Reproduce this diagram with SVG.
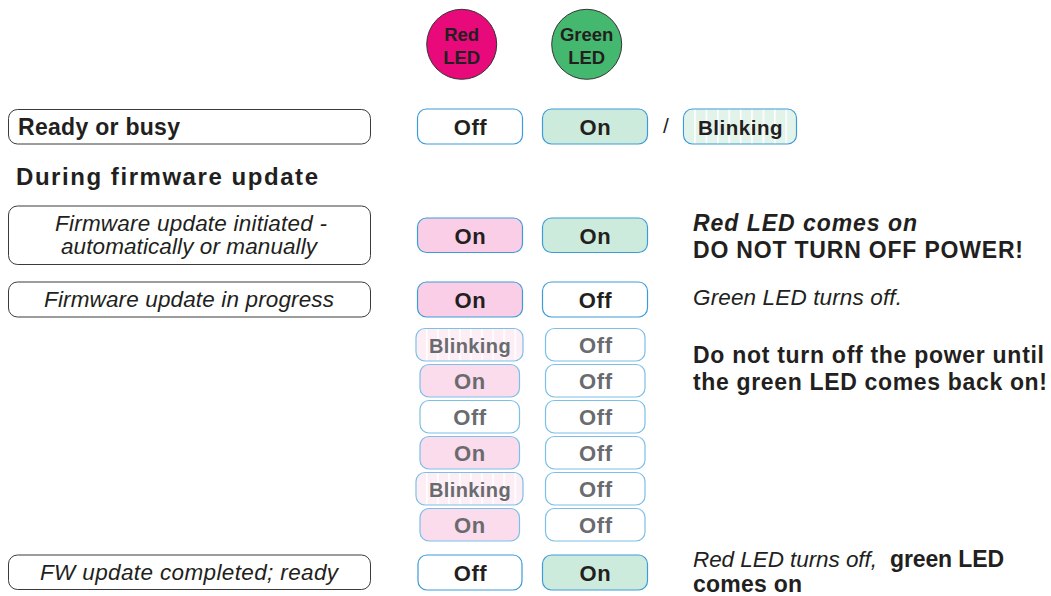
<svg xmlns="http://www.w3.org/2000/svg" width="1051" height="596" viewBox="0 0 1051 596">
<style>
text{font-family:"Liberation Sans",Arial,Helvetica,sans-serif;fill:#231f20}
.lbl{fill:#fff;stroke:#3a3a3a;stroke-width:1}
.box{stroke:#3d9bd8;stroke-width:1.2}
.boxl{stroke:#7dbfe7;stroke-width:1.2}
.w{fill:#fff}
.pk{fill:#f9cee6}
.pkl{fill:#fadcec}
.gn{fill:#cdebdd}
.bt{font-weight:bold;font-size:22px;letter-spacing:0.6px;text-anchor:middle}
.gr{fill:#6a6b6e}
.it{font-style:italic;font-size:22.5px}
.bd{font-weight:bold;font-size:23px}
.led{font-weight:bold;font-size:18.5px;text-anchor:middle}
</style>
<defs>
<pattern id="stG" patternUnits="userSpaceOnUse" x="694.2" y="0" width="11.4" height="20">
<rect width="11.4" height="20" fill="#e2f3ea"/><rect x="0" width="1.6" height="20" fill="#fff"/>
</pattern>
<pattern id="stP" patternUnits="userSpaceOnUse" x="426" y="0" width="11.05" height="20">
<rect width="11.05" height="20" fill="#fdeef6"/><rect x="0" width="1.6" height="20" fill="#fff"/>
</pattern>
</defs>
<rect width="1051" height="596" fill="#fff"/>

<g id="led-red">
<circle cx="461.7" cy="44.3" r="35" fill="#e8097b" stroke="#333" stroke-width="1"/>
<text class="led" x="461.7" y="41">Red</text>
<text class="led" x="461.7" y="64">LED</text>
</g>
<g id="led-green">
<circle cx="586.7" cy="44.3" r="35" fill="#45b86f" stroke="#333" stroke-width="1"/>
<text class="led" x="586.7" y="41">Green</text>
<text class="led" x="586.7" y="64">LED</text>
</g>

<g id="label-ready">
<rect class="lbl" x="8.5" y="109.5" width="362" height="34.5" rx="9"/>
<text class="bd" x="18" y="135" textLength="162" lengthAdjust="spacing">Ready or busy</text>
</g>
<g id="heading">
<text class="bd" x="16" y="185" style="font-size:24px" textLength="302" lengthAdjust="spacing">During firmware update</text>
</g>
<g id="label-initiated">
<rect class="lbl" x="8.5" y="206" width="362" height="58.5" rx="9"/>
<text class="it" x="55" y="231" textLength="272" lengthAdjust="spacing">Firmware update initiated -</text>
<text class="it" x="61" y="254" textLength="256" lengthAdjust="spacing">automatically or manually</text>
</g>
<g id="label-progress">
<rect class="lbl" x="8.5" y="282" width="362" height="35" rx="9"/>
<text class="it" x="44" y="307" textLength="290" lengthAdjust="spacing">Firmware update in progress</text>
</g>
<g id="label-completed">
<rect class="lbl" x="8.5" y="555" width="362" height="34.5" rx="9"/>
<text class="it" x="40" y="580" textLength="298" lengthAdjust="spacing">FW update completed; ready</text>
</g>

<g id="row-ready">
<rect class="box w" x="417.5" y="109" width="105" height="35" rx="9"/>
<text class="bt" x="470.5" y="134.5">Off</text>
<rect class="box gn" x="542.5" y="109" width="105" height="35" rx="9"/>
<text class="bt" x="595.5" y="134.5">On</text>
<text x="666" y="133" style="font-size:21px;text-anchor:middle">/</text>
<rect class="box" x="683.5" y="109" width="113" height="35" rx="9" fill="url(#stG)"/>
<text class="bt" x="740.5" y="134.5" style="font-size:20.5px;letter-spacing:0.5px">Blinking</text>
</g>

<g id="row-initiated">
<rect class="box pk" x="417.5" y="218" width="105" height="34.5" rx="9"/>
<text class="bt" x="470.5" y="243.5">On</text>
<rect class="box gn" x="542.5" y="218" width="105" height="34.5" rx="9"/>
<text class="bt" x="595.5" y="243.5">On</text>
</g>

<g id="row-progress">
<rect class="box pk" x="417.5" y="282" width="105" height="35" rx="9"/>
<text class="bt" x="470.5" y="307.5">On</text>
<rect class="box w" x="542.5" y="282" width="105" height="35" rx="9"/>
<text class="bt" x="595.5" y="307.5">Off</text>
</g>

<g id="row-seq1">
<rect class="boxl" x="416" y="328.5" width="107" height="32.5" rx="9" fill="url(#stP)"/>
<text class="bt gr" x="470" y="353" style="font-size:20px;letter-spacing:0.4px">Blinking</text>
<rect class="boxl w" x="545.5" y="328.5" width="99.5" height="32.5" rx="9"/>
<text class="bt gr" x="595.8" y="353">Off</text>
</g>
<g id="row-seq2">
<rect class="boxl pkl" x="420" y="364.5" width="99.5" height="32.5" rx="9"/>
<text class="bt gr" x="470" y="389">On</text>
<rect class="boxl w" x="545.5" y="364.5" width="99.5" height="32.5" rx="9"/>
<text class="bt gr" x="595.8" y="389">Off</text>
</g>
<g id="row-seq3">
<rect class="boxl w" x="420" y="400.5" width="99.5" height="32.5" rx="9"/>
<text class="bt gr" x="470" y="425">Off</text>
<rect class="boxl w" x="545.5" y="400.5" width="99.5" height="32.5" rx="9"/>
<text class="bt gr" x="595.8" y="425">Off</text>
</g>
<g id="row-seq4">
<rect class="boxl pkl" x="420" y="436.5" width="99.5" height="32.5" rx="9"/>
<text class="bt gr" x="470" y="461">On</text>
<rect class="boxl w" x="545.5" y="436.5" width="99.5" height="32.5" rx="9"/>
<text class="bt gr" x="595.8" y="461">Off</text>
</g>
<g id="row-seq5">
<rect class="boxl" x="416" y="472.5" width="107" height="32.5" rx="9" fill="url(#stP)"/>
<text class="bt gr" x="470" y="497" style="font-size:20px;letter-spacing:0.4px">Blinking</text>
<rect class="boxl w" x="545.5" y="472.5" width="99.5" height="32.5" rx="9"/>
<text class="bt gr" x="595.8" y="497">Off</text>
</g>
<g id="row-seq6">
<rect class="boxl pkl" x="420" y="508.5" width="99.5" height="32.5" rx="9"/>
<text class="bt gr" x="470" y="533">On</text>
<rect class="boxl w" x="545.5" y="508.5" width="99.5" height="32.5" rx="9"/>
<text class="bt gr" x="595.8" y="533">Off</text>
</g>

<g id="row-completed">
<rect class="box w" x="418" y="555" width="104" height="35" rx="9"/>
<text class="bt" x="470.5" y="580.5">Off</text>
<rect class="box gn" x="542.5" y="555" width="105" height="35" rx="9"/>
<text class="bt" x="595.5" y="580.5">On</text>
</g>

<g id="notes">
<text class="bd" x="693" y="231" style="font-style:italic" textLength="224" lengthAdjust="spacing">Red LED comes on</text>
<text class="bd" x="693" y="258" textLength="330" lengthAdjust="spacing">DO NOT TURN OFF POWER!</text>
<text class="it" x="693" y="305" textLength="209" lengthAdjust="spacing">Green LED turns off.</text>
<text class="bd" x="693" y="363" textLength="351" lengthAdjust="spacing">Do not turn off the power until</text>
<text class="bd" x="693" y="390" textLength="354" lengthAdjust="spacing">the green LED comes back on!</text>
<text class="it" x="693" y="567" textLength="184" lengthAdjust="spacing">Red LED turns off,</text>
<text class="bd" x="890" y="567" textLength="114" lengthAdjust="spacing">green LED</text>
<text class="bd" x="693" y="592" textLength="109" lengthAdjust="spacing">comes on</text>
</g>
<g id="connectors"></g>
</svg>
